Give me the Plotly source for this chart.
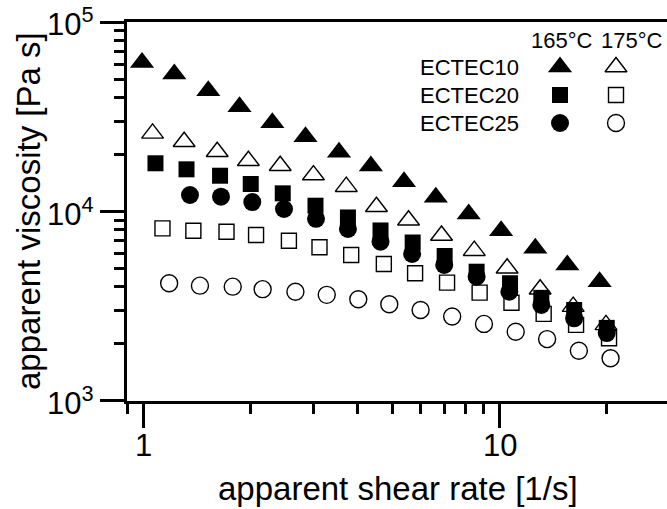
import math
import plotly.graph_objects as go

# ---- data ----
rate_e10_165 = [0.99, 1.22, 1.52, 1.86, 2.30, 2.85, 3.54, 4.35, 5.39, 6.62, 8.19, 10.1, 12.6, 15.5, 19.1]
visc_e10_165 = [61250, 53160, 43400, 35730, 29420, 24810, 20530, 17390, 14370, 11880, 9700, 7920, 6390, 5220, 4260]

rate_e10_175 = [1.06, 1.30, 1.61, 1.97, 2.42, 3.00, 3.71, 4.51, 5.55, 6.87, 8.49, 10.5, 13.0, 16.1, 19.9]
visc_e10_175 = [25860, 23350, 20680, 18540, 17450, 15580, 13520, 10600, 8990, 7470, 6210, 5015, 3885, 3145, 2520]

rate_e20_165 = [1.08, 1.32, 1.64, 2.00, 2.46, 3.04, 3.75, 4.63, 5.70, 7.01, 8.62, 10.7, 13.1, 16.2, 20.0]
visc_e20_165 = [17970, 16700, 15450, 13970, 12470, 10730, 9300, 7940, 6860, 5820, 4810, 4180, 3500, 3020, 2430]

rate_e20_175 = [1.13, 1.38, 1.71, 2.07, 2.56, 3.12, 3.83, 4.73, 5.79, 7.12, 8.79, 10.8, 13.3, 16.4, 20.3]
visc_e20_175 = [8150, 7920, 7820, 7520, 7010, 6470, 5890, 5280, 4720, 4210, 3730, 3300, 2880, 2520, 2140]

rate_e25_165 = [1.35, 1.65, 2.02, 2.48, 3.05, 3.75, 4.63, 5.68, 6.99, 8.62, 10.65, 13.1, 16.2, 20.0]
visc_e25_165 = [12220, 11970, 11220, 10310, 9150, 8090, 6930, 5970, 5220, 4530, 3770, 3210, 2730, 2280]

rate_e25_175 = [1.18, 1.44, 1.78, 2.16, 2.67, 3.27, 4.01, 4.90, 6.00, 7.36, 9.04, 11.1, 13.6, 16.7, 20.5]
visc_e25_175 = [4180, 4060, 4010, 3890, 3770, 3630, 3440, 3240, 3020, 2790, 2550, 2320, 2120, 1840, 1680]

materials = ["ECTEC10", "ECTEC20", "ECTEC25"]
temperatures = ["165°C", "175°C"]
y_tickvals = [1e3, 1e4, 1e5]
y_ticktext = ["10<sup>3</sup>", "10<sup>4</sup>", "10<sup>5</sup>"]
y_minor = [m * d for d in (1e3, 1e4) for m in range(2, 10)]
x_tickvals = [1, 10]
x_ticktext = ["1", "10"]
x_minor = [0.9] + [m for m in range(2, 10)] + [20]

FONT = "Arial, Liberation Sans, sans-serif"
BLACK = "#000000"

series = [
    (rate_e10_165, visc_e10_165, "triangle-up", True, 21),
    (rate_e10_175, visc_e10_175, "triangle-up-open", False, 19),
    (rate_e20_165, visc_e20_165, "square", True, 16),
    (rate_e20_175, visc_e20_175, "square-open", False, 15),
    (rate_e25_165, visc_e25_165, "circle", True, 18),
    (rate_e25_175, visc_e25_175, "circle-open", False, 17),
]

# ---- geometry ----
W, H = 667, 509
ML, MR, MT, MB = 127, 0, 22, 108
PW, PH = W - ML - MR, H - MT - MB
x_lo = math.log10(0.9) - 0.0008
x_hi = x_lo + PW / 356.0
y_lo, y_hi = 2.9995, 5.0005


def px(X):
    return (X - ML) / PW


def py(Y):
    return (H - MB - Y) / PH


fig = go.Figure()
for xs, ys, sym, filled, sz in series:
    fig.add_trace(go.Scatter(
        x=xs, y=ys, mode="markers", showlegend=False,
        marker=dict(symbol=sym, size=sz, color=BLACK,
                    line=dict(color=BLACK, width=0 if filled else 1.4)),
        hoverinfo="x+y",
    ))

# empty trace so the minor-tick overlay axes exist
fig.add_trace(go.Scatter(x=[], y=[], xaxis="x3", yaxis="y3", showlegend=False, hoverinfo="skip"))

# ---- custom two-column legend on an overlay axis pair (pixel-like units) ----
leg_rows_y = [67, 95, 123]
leg_cols_x = [560, 616]
leg_syms = [("triangle-up", "triangle-up-open", 21, 19),
            ("square", "square-open", 16, 15),
            ("circle", "circle-open", 18, 17)]
for r, (fs, os_, s1, s2) in enumerate(leg_syms):
    fig.add_trace(go.Scatter(
        x=[leg_cols_x[0]], y=[leg_rows_y[r]], mode="markers", xaxis="x2", yaxis="y2",
        showlegend=False, hoverinfo="skip",
        marker=dict(symbol=fs, size=s1, color=BLACK, line=dict(width=0))))
    fig.add_trace(go.Scatter(
        x=[leg_cols_x[1]], y=[leg_rows_y[r]], mode="markers", xaxis="x2", yaxis="y2",
        showlegend=False, hoverinfo="skip",
        marker=dict(symbol=os_, size=s2, color=BLACK, line=dict(color=BLACK, width=1.4))))
    fig.add_annotation(x=px(521), y=py(leg_rows_y[r]), xref="paper", yref="paper", text=materials[r],
                       showarrow=False, xanchor="right", yanchor="middle",
                       font=dict(family=FONT, size=22, color=BLACK))
fig.add_annotation(x=px(595), y=py(40), xref="paper", yref="paper", text=temperatures[0],
                   showarrow=False, xanchor="right", yanchor="middle",
                   font=dict(family=FONT, size=22, color=BLACK))
fig.add_annotation(x=px(665), y=py(40), xref="paper", yref="paper", text=temperatures[1],
                   showarrow=False, xanchor="right", yanchor="middle",
                   font=dict(family=FONT, size=22, color=BLACK))

# ---- tick labels (placed through the axis scales) ----
for v, t in zip(x_tickvals, x_ticktext):
    fig.add_annotation(x=math.log10(v), y=py(445), xref="x", yref="paper", text=t,
                       showarrow=False, xanchor="center", yanchor="middle",
                       font=dict(family=FONT, size=31, color=BLACK))
for v, t in zip(y_tickvals, y_ticktext):
    fig.add_annotation(x=px(96), y=math.log10(v), xref="paper", yref="y", text=t,
                       showarrow=False, xanchor="right", yanchor="middle",
                       font=dict(family=FONT, size=31, color=BLACK))

# ---- axis titles ----
fig.add_annotation(x=px(398), y=py(488), xref="paper", yref="paper", text="apparent shear rate [1/s]",
                   showarrow=False, xanchor="center", yanchor="middle",
                   font=dict(family=FONT, size=33, color=BLACK))
fig.add_annotation(x=px(28), y=py(211), xref="paper", yref="paper", text="apparent viscosity [Pa s]",
                   textangle=-90, showarrow=False, xanchor="center", yanchor="middle",
                   font=dict(family=FONT, size=33, color=BLACK))

fig.update_layout(
    width=W, height=H,
    margin=dict(l=ML, r=MR, t=MT, b=MB, pad=0),
    paper_bgcolor="white", plot_bgcolor="white",
    font=dict(family=FONT, color=BLACK, size=30),
    xaxis=dict(
        type="log", range=[x_lo, x_hi],
        showgrid=False, zeroline=False,
        showline=True, linecolor=BLACK, linewidth=2.5, mirror=True,
        ticks="outside", ticklen=24, tickwidth=2.5, tickcolor=BLACK,
        tickmode="array", tickvals=x_tickvals, showticklabels=False,
    ),
    yaxis=dict(
        type="log", range=[y_lo, y_hi],
        showgrid=False, zeroline=False,
        showline=True, linecolor=BLACK, linewidth=2.5, mirror=False,
        ticks="outside", ticklen=24, tickwidth=2.5, tickcolor=BLACK,
        tickmode="array", tickvals=y_tickvals, showticklabels=False,
    ),
    xaxis3=dict(
        type="log", range=[x_lo, x_hi], overlaying="x", anchor="y", side="bottom",
        showgrid=False, zeroline=False, showline=False,
        ticks="outside", ticklen=12, tickwidth=2.5, tickcolor=BLACK,
        tickmode="array", tickvals=x_minor, showticklabels=False, fixedrange=True,
    ),
    yaxis3=dict(
        type="log", range=[y_lo, y_hi], overlaying="y", anchor="x", side="left",
        showgrid=False, zeroline=False, showline=False,
        ticks="outside", ticklen=12, tickwidth=2.5, tickcolor=BLACK,
        tickmode="array", tickvals=y_minor, showticklabels=False, fixedrange=True,
    ),
    xaxis2=dict(overlaying="x", range=[ML, W - MR], visible=False, fixedrange=True),
    yaxis2=dict(overlaying="y", range=[H - MB, MT], visible=False, fixedrange=True),
)

fig.write_html("out.html", config={"displayModeBar": False},
               post_script="document.body.style.margin='0';document.body.style.overflow='hidden';")
